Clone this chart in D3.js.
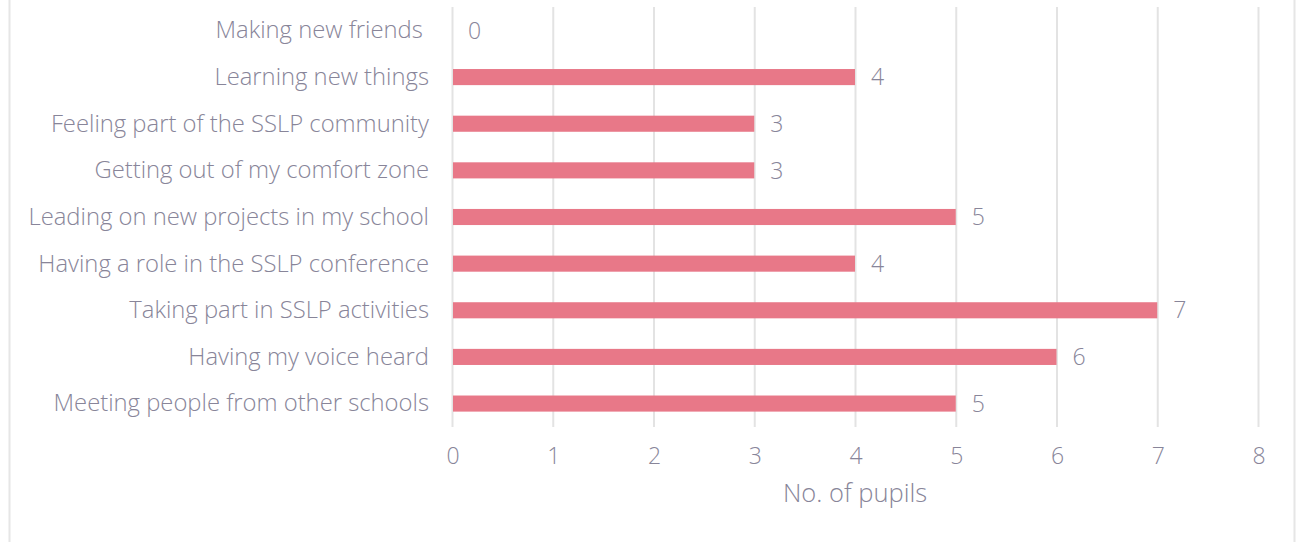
<!DOCTYPE html>
<html><head><meta charset="utf-8">
<script src="https://cdn.jsdelivr.net/npm/d3@7"></script>
<style>
html,body{margin:0;padding:0;background:#fff;}
svg{display:block;}
text{font-family:"Open Sans",sans-serif;font-weight:300;fill:#888599;white-space:pre;}
</style></head><body>
<svg id="c" width="1300" height="542"></svg>
<script>
const categories = ["Making new friends ","Learning new things","Feeling part of the SSLP community","Getting out of my comfort zone","Leading on new projects in my school","Having a role in the SSLP conference","Taking part in SSLP activities","Having my voice heard","Meeting people from other schools"];
const values = [0,4,3,3,5,4,7,6,5];
const xTicks = [0,1,2,3,4,5,6,7,8];
const axisTitle = "No. of pupils";

const svg = d3.select("#c");
// frame
svg.append("line").attr("x1",9.5).attr("x2",9.5).attr("y1",0).attr("y2",542).attr("stroke","#e6e6e6").attr("stroke-width",2);
svg.append("line").attr("x1",1294.5).attr("x2",1294.5).attr("y1",0).attr("y2",542).attr("stroke","#e6e6e6").attr("stroke-width",2);

const x = d3.scaleLinear().domain([0,8]).range([452,1258]);
const y = d3.scaleBand().domain(categories).range([7,427]).paddingInner(0.655).paddingOuter(0.33);

// gridlines
svg.append("g").selectAll("line").data(xTicks).join("line")
  .attr("x1",d=>x(d)+0.5).attr("x2",d=>x(d)+0.5).attr("y1",7).attr("y2",427)
  .attr("stroke","#e3e3e3").attr("stroke-width",2);

// bars
svg.append("g").selectAll("rect").data(values).join("rect")
  .attr("x",x(0)+1).attr("y",(d,i)=>y(categories[i]))
  .attr("width",d=>Math.max(0,x(d)-x(0)-1)).attr("height",y.bandwidth())
  .attr("fill","#e87888");

// value labels
svg.append("g").selectAll("text").data(values).join("text")
  .attr("x",d=>x(d)+16).attr("y",(d,i)=>y(categories[i])+y.bandwidth()/2+2)
  .attr("dominant-baseline","middle").style("font-size","23px").text(d=>d);

// category labels
svg.append("g").selectAll("text").data(categories).join("text")
  .attr("x",429).attr("y",d=>y(d)+y.bandwidth()/2+1.5)
  .attr("text-anchor","end").attr("dominant-baseline","middle").style("font-size","23.8px").text(d=>d);

// tick labels
svg.append("g").selectAll("text").data(xTicks).join("text")
  .attr("x",d=>x(d)+1).attr("y",458).attr("text-anchor","middle").attr("dominant-baseline","middle")
  .style("font-size","23px").text(d=>d);

svg.append("text").attr("x",(x(0)+x(8))/2).attr("y",495).attr("text-anchor","middle")
  .attr("dominant-baseline","middle").style("font-size","25.5px").text(axisTitle);
</script>
</body></html>
